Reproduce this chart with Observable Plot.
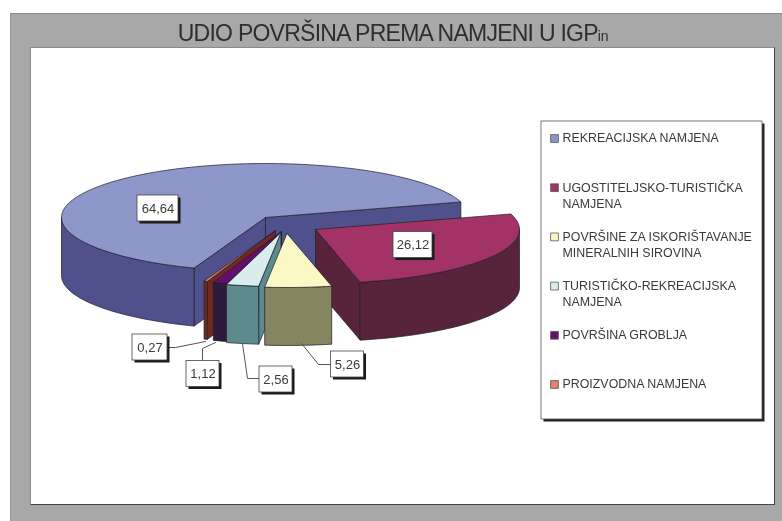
<!DOCTYPE html>
<html lang="hr">
<head>
<meta charset="utf-8">
<title>UDIO POVRŠINA PREMA NAMJENI U IGPin</title>
<script src="https://cdn.jsdelivr.net/npm/d3@7"></script>
<script src="https://cdn.jsdelivr.net/npm/@observablehq/plot@0.6"></script>
<style>
  html, body { margin: 0; padding: 0; background: #fff; }
  #page { position: relative; width: 782px; height: 521px; overflow: hidden; font-family: "Liberation Sans", Arial, sans-serif; filter: blur(0.4px); }
  #frame { position: absolute; left: 10px; top: 13px; width: 772px; height: 508px; background: #a8a8a8; border-top: 1px solid #8a8a8a; border-left: 1px solid #999; box-sizing: border-box; }
  #panel { position: absolute; left: 30px; top: 47px; width: 745px; height: 458px; background: #fff; border: 1px solid #8a8a8a; border-right: 1px solid #444; border-bottom: 1px solid #444; box-sizing: border-box; }
  h1 { position: absolute; left: 10px; top: 20px; width: 766px; margin: 0; text-align: center; font-size: 23px; line-height: 26px; font-weight: normal; color: #2e2e2e; letter-spacing: -0.75px; white-space: nowrap; }
  h1 span { font-size: 14px; letter-spacing: -0.2px; }
  #chart { position: absolute; left: 31px; top: 48px; width: 744px; height: 457px; }
  #chart svg { display: block; }
</style>
</head>
<body>
<div id="page">
  <div id="frame"></div>
  <div id="panel"></div>
  <h1>UDIO POVRŠINA PREMA NAMJENI U IGP<span>in</span></h1>
  <div id="chart"></div>
</div>
<script>
// ---- data ----
const categories = [
  "REKREACIJSKA NAMJENA",
  "UGOSTITELJSKO-TURISTIČKA\nNAMJENA",
  "POVRŠINE ZA ISKORIŠTAVANJE\nMINERALNIH SIROVINA",
  "TURISTIČKO-REKREACIJSKA\nNAMJENA",
  "POVRŠINA GROBLJA",
  "PROIZVODNA NAMJENA"
];
const values = [64.64, 26.12, 5.26, 2.56, 1.12, 0.27];
const topColors  = ["#8e97c9", "#a33366", "#fbf8c6", "#d9ecee", "#660e6e", "#e8806f"];
const sideColors = ["#50508c", "#58243c", "#85855f", "#5d8a8c", "#2e1a3c", "#6e2a20"];

// ---- layout of the projected pie ----
const startAngle = 200.5, rx = 204, ry = 54, depth = 58;
const apexes = [[265, 217], [315, 229], [286.5, 233], [280.5, 232], [281, 231], [275, 230]];
const paintOrder = [0, 1, 5, 4, 3, 2];
const labelCentres = [[157.5, 208], [412.5, 244.5], [347, 364], [275.5, 379], [202.5, 373.5], [149.5, 347]];
const labelWidths = [41, 39, 33, 33, 33, 35];
const labelHeight = 26;
const leaders = [null, null,
  [[330, 364], [318, 364], [301, 343]],
  [[259, 378], [247, 378], [242, 343]],
  [[202, 360], [202, 348], [215, 342]],
  [[167, 347], [175, 347], [205, 341]]
];
const legendBox = {x1: 541, x2: 762, y1: 121, y2: 419};
const legendX = 554, legendTextX = 562, legendY0 = 138, legendStep = 49.2;

// ---- derived geometry ----
const total = d3.sum(values);
const slices = [];
let running = startAngle;
values.forEach((v, i) => {
  const a0 = running, a1 = running + v / total * 360;
  running = a1;
  slices.push({i, a0, a1, key: categories[i], side: categories[i] + " bok", apex: apexes[i]});
});

const rad = d => d * Math.PI / 180;
const rim = (s, a, drop = 0) => ({
  x: s.apex[0] + rx * Math.sin(rad(a)),
  y: s.apex[1] - ry * Math.cos(rad(a)) + drop
});
const arcAngles = (a0, a1) => {
  const out = [];
  for (let a = a0; a < a1; a += 1.5) out.push(a);
  out.push(a1);
  return out;
};

const polys = [];
function addPoly(points, colour) {
  const id = polys.length ? polys[polys.length - 1].id + 1 : 0;
  points.concat([points[0]]).forEach(p => polys.push({id, x: p.x, y: p.y, colour}));
}
const centre = (s, drop = 0) => ({x: s.apex[0], y: s.apex[1] + drop});

for (const k of paintOrder) {
  const s = slices[k];
  // radial walls: only those turned towards the viewer
  const wallFacing = (a, n) => Math.cos(rad(a + n)) < 0;
  for (const [a, n] of [[s.a0, -90], [s.a1, 90]]) {
    if (wallFacing(a, n)) {
      addPoly([centre(s), rim(s, a), rim(s, a, depth), centre(s, depth)], s.side);
    }
  }
  // curved outer wall: the part of the rim on the viewer's side (90..270, also mod 360)
  for (const shift of [0, 360]) {
    const lo = Math.max(s.a0, 90 + shift), hi = Math.min(s.a1, 270 + shift);
    if (lo < hi) {
      const arc = arcAngles(lo, hi);
      addPoly([...arc.map(a => rim(s, a)), ...arc.slice().reverse().map(a => rim(s, a, depth))], s.side);
    }
  }
  // top face
  addPoly([centre(s), ...arcAngles(s.a0, s.a1).map(a => rim(s, a))], s.key);
}

const labels = values.map((v, i) => ({
  text: v.toFixed(2).replace(".", ","),
  x: labelCentres[i][0], y: labelCentres[i][1], w: labelWidths[i]
}));
const leaderPoints = leaders.flatMap((l, i) => l ? l.map(p => ({id: i, x: p[0], y: p[1]})) : []);
const legendRows = categories.map((c, i) => ({c, y: legendY0 + i * legendStep}));

const chart = Plot.plot({
  width: 744, height: 457, margin: 0,
  x: {domain: [31, 775], axis: null},
  y: {domain: [505, 48], axis: null},
  color: {type: "ordinal", domain: [...categories, ...categories.map(c => c + " bok")], range: [...topColors, ...sideColors]},
  style: {background: "transparent", fontFamily: '"Liberation Sans", Arial, sans-serif', color: "#333"},
  marks: [
    // pie
    Plot.line(polys, {x: "x", y: "y", z: "id", fill: "colour", stroke: "#1c1c2a", strokeWidth: 0.7, strokeLinejoin: "round", curve: "linear"}),
    // leader lines
    Plot.line(leaderPoints, {x: "x", y: "y", z: "id", stroke: "#555", strokeWidth: 1}),
    // data labels
    Plot.rect(labels, {x1: d => d.x - d.w / 2 + 2.5, x2: d => d.x + d.w / 2 + 2.5, y1: d => d.y - labelHeight / 2 + 2.5, y2: d => d.y + labelHeight / 2 + 2.5, fill: "#1a1a1a"}),
    Plot.rect(labels, {x1: d => d.x - d.w / 2, x2: d => d.x + d.w / 2, y1: d => d.y - labelHeight / 2, y2: d => d.y + labelHeight / 2, fill: "#fff", stroke: "#444", strokeWidth: 0.8}),
    Plot.text(labels, {x: "x", y: "y", text: "text", fontSize: 13, fill: "#3a3a3a"}),
    // legend
    Plot.rect([legendBox], {x1: d => d.x1 + 2.5, x2: d => d.x2 + 2.5, y1: d => d.y1 + 2.5, y2: d => d.y2 + 2.5, fill: "#222"}),
    Plot.rect([legendBox], {x1: "x1", x2: "x2", y1: "y1", y2: "y2", fill: "#fff", stroke: "#555", strokeWidth: 0.8}),
    Plot.dot(legendRows, {x: () => legendX, y: "y", symbol: "square", r: 4.4, fill: "c", stroke: "#555", strokeWidth: 0.8}),
    Plot.text(legendRows, {x: () => legendTextX, y: "y", text: "c", dy: -7.5, textAnchor: "start", lineAnchor: "top", lineHeight: 1.29, fontSize: 12.4, fill: "#3a3a3a"})
  ]
});
document.getElementById("chart").appendChild(chart);
</script>
</body>
</html>
